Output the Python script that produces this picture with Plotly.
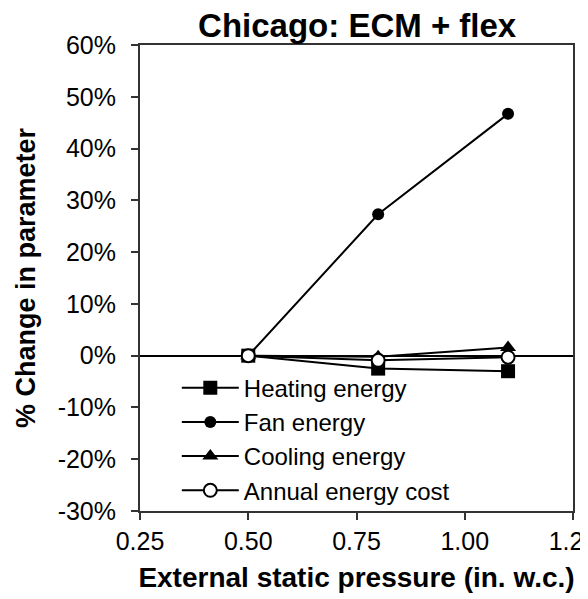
import plotly.graph_objects as go

x_esp = [0.5, 0.8, 1.1]
heating = [0.0, -2.5, -3.0]
fan = [0.0, 27.3, 46.7]
cooling = [0.0, -0.2, 1.6]
annual_cost = [0.0, -0.9, -0.3]

x_ticks = [0.25, 0.50, 0.75, 1.00, 1.25]
y_ticks = [-30, -20, -10, 0, 10, 20, 30, 40, 50, 60]

FONT = "Arial, Liberation Sans, sans-serif"

fig = go.Figure()
series = [
    ("Heating energy", heating, dict(symbol="square", size=14, color="black")),
    ("Fan energy", fan, dict(symbol="circle", size=12, color="black")),
    ("Cooling energy", cooling, dict(symbol="triangle-up", size=14, color="black")),
    ("Annual energy cost", annual_cost,
     dict(symbol="circle", size=13, color="white", line=dict(color="black", width=2))),
]
for name, vals, mk in series:
    fig.add_trace(go.Scatter(
        x=x_esp, y=vals, name=name, mode="lines+markers",
        line=dict(color="black", width=2), marker=mk,
    ))

fig.update_layout(
    width=580, height=591,
    margin=dict(l=132, r=15, t=37, b=88),
    paper_bgcolor="white", plot_bgcolor="white",
    font=dict(family=FONT, color="black"),
    title=dict(text="<b>Chicago: ECM + flex</b>", x=0.602, xanchor="center",
               y=0.971, yanchor="middle", font=dict(size=33, family=FONT)),
    showlegend=True,
    legend=dict(x=0.085, y=0.312, xanchor="left", yanchor="top",
                bgcolor="rgba(0,0,0,0)", font=dict(size=24, family=FONT),
                itemwidth=57, tracegroupgap=0),
)
fig.update_xaxes(
    range=[0.25, 1.25], tickvals=x_ticks,
    ticktext=[f"{v:.2f}" for v in x_ticks],
    ticklabeloverflow="allow", automargin=False,
    showline=True, mirror=True, linecolor="#333", linewidth=2,
    ticks="outside", ticklen=7, tickwidth=2, tickcolor="#333",
    showgrid=False, zeroline=False,
    tickfont=dict(size=25, family=FONT),
    title=dict(text="<b>External static pressure (in. w.c.)</b>",
               font=dict(size=28, family=FONT), standoff=13),
)
fig.update_yaxes(
    range=[-30, 60], tickvals=y_ticks,
    ticktext=[f"{v}%" for v in y_ticks],
    ticklabelstandoff=10, automargin=False,
    showline=True, mirror=True, linecolor="#333", linewidth=2,
    ticks="outside", ticklen=7, tickwidth=2, tickcolor="#333",
    showgrid=False, zeroline=True, zerolinecolor="black", zerolinewidth=1.5,
    tickfont=dict(size=25, family=FONT),
    title=dict(text="<b>% Change in parameter</b>",
               font=dict(size=27, family=FONT), standoff=14),
)

fig.write_html("out.html")
